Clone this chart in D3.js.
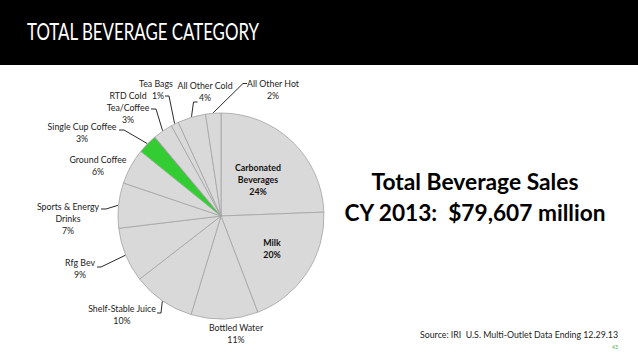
<!DOCTYPE html>
<html lang="en">
<head>
  <meta charset="UTF-8">
  <title>Total Beverage Category</title>
  <style>
    body { margin: 0; padding: 0; background: #fff; }
    svg { display: block; font-family: 'Lato', 'Open Sans', sans-serif; }
    text { white-space: pre; }
    .slice { stroke: #a3a3a3; stroke-width: 0.8px; }
    .leader { fill: none; stroke: #111; stroke-width: 0.9px; }
    .lbl { font-size: 8.8px; fill: #222; }
    .lbl.inside { font-weight: bold; fill: #111; }
  </style>
</head>
<body>
  <svg width="638" height="359"></svg>

  <script src="https://d3js.org/d3.v7.min.js"></script>
  <script>
    // data, clockwise from 12 o'clock
    const categories = [
      "Carbonated Beverages", "Milk", "Bottled Water", "Shelf-Stable Juice",
      "Rfg Bev", "Sports & Energy Drinks", "Ground Coffee", "Single Cup Coffee",
      "RTD Cold Tea/Coffee", "Tea Bags", "All Other Cold", "All Other Hot"
    ];
    const shares = [24.4, 19.8, 10.5, 9.8, 8.6, 7.1, 5.6, 3.1, 3.1, 1.2, 4.4, 2.4];
    const highlighted = "Single Cup Coffee";

    const titleText = "TOTAL BEVERAGE CATEGORY";
    const headline = ["Total Beverage Sales", "CY 2013:  $79,607 million"];
    const sourceText = "Source: IRI  U.S. Multi-Outlet Data Ending 12.29.13";

    // label layout: text lines, centre x, first baseline, leader elbow/end
    const labelLayout = {
      "Carbonated Beverages": { lines: ["Carbonated", "Beverages"], x: 258, y: 171, inside: true },
      "Milk":                 { lines: ["Milk"], x: 272, y: 246, inside: true },
      "Bottled Water":        { lines: ["Bottled Water"], x: 236, y: 331 },
      "Shelf-Stable Juice":   { lines: ["Shelf-Stable Juice"], x: 122, y: 312, leader: [[161, 313], [157, 313]] },
      "Rfg Bev":              { lines: ["Rfg Bev"], x: 80, y: 266, leader: [[101, 267], [97, 267]] },
      "Sports & Energy Drinks": { lines: ["Sports & Energy", "Drinks"], x: 68, y: 210, leader: [[106, 209], [101, 209]] },
      "Ground Coffee":        { lines: ["Ground Coffee"], x: 98, y: 163 },
      "Single Cup Coffee":    { lines: ["Single Cup Coffee"], x: 82, y: 130, leader: [[124, 130], [119, 130]] },
      "RTD Cold Tea/Coffee":  { lines: ["RTD Cold", "Tea/Coffee"], x: 128, y: 99, leader: [[156, 109], [151, 109]] },
      "Tea Bags":             { lines: ["Tea Bags"], x: 156, y: 86.5, pctX: 158, leader: [[169, 96], [165, 96]] },
      "All Other Cold":       { lines: ["All Other Cold"], x: 205, y: 88.5, leader: [[193.5, 102], [197.5, 102]] },
      "All Other Hot":        { lines: ["All Other Hot"], x: 273, y: 86.5, leader: [[243, 83.5], [247, 83.5]] }
    };

    const svg = d3.select("svg");
    const W = 638, H = 359;
    const cx = 221, cy = 216, r = 103;

    // header bar
    svg.append("rect").attr("x", 0).attr("y", 0).attr("width", W).attr("height", 65).attr("fill", "#000");

    svg.append("text")
      .attr("x", 27).attr("y", 40)
      .attr("font-size", 22.5).attr("fill", "#fff")
      .attr("textLength", 232).attr("lengthAdjust", "spacingAndGlyphs")
      .text(titleText);

    // pie
    const pie = d3.pie().sort(null).value(d => d.v);
    const arc = d3.arc().innerRadius(0).outerRadius(r);
    const arcs = pie(categories.map((c, i) => ({ c, v: shares[i] })));

    const g = svg.append("g").attr("transform", `translate(${cx},${cy})`);
    g.selectAll("path")
      .data(arcs)
      .enter().append("path")
      .attr("class", "slice")
      .attr("d", arc)
      .attr("fill", d => d.data.c === highlighted ? "#33cc33" : "#d9d9d9");

    // leaders
    const edge = d3.arc().innerRadius(r + 0.5).outerRadius(r + 0.5);
    arcs.forEach(d => {
      const L = labelLayout[d.data.c];
      if (!L.leader) return;
      const [ex, ey] = edge.centroid(d);
      const pts = [[cx + ex, cy + ey]].concat(L.leader);
      svg.append("path").attr("class", "leader").attr("d", d3.line()(pts));
    });

    // labels
    arcs.forEach(d => {
      const L = labelLayout[d.data.c];
      const pct = Math.round(d.data.v) + "%";
      const lines = L.lines.concat([pct]);
      const t = svg.append("text")
        .attr("class", "lbl" + (L.inside ? " inside" : ""))
        .attr("text-anchor", "middle");
      lines.forEach((s, i) => {
        t.append("tspan")
          .attr("x", i === lines.length - 1 && L.pctX ? L.pctX : L.x)
          .attr("y", L.y + i * 12.2)
          .text(s);
      });
    });

    // headline
    const headW = [207, 261];
    headline.forEach((s, i) => {
      svg.append("text")
        .attr("x", 475 - headW[i] / 2).attr("y", 190 + i * 30.5)
        .attr("font-size", 22).attr("font-weight", "bold").attr("fill", "#000")
        .attr("textLength", headW[i]).attr("lengthAdjust", "spacingAndGlyphs")
        .text(s);
    });

    svg.append("text")
      .attr("x", 420).attr("y", 338)
      .attr("font-size", 9.5).attr("fill", "#222")
      .attr("textLength", 198).attr("lengthAdjust", "spacingAndGlyphs")
      .text(sourceText);

    svg.append("text")
      .attr("x", 612).attr("y", 349)
      .attr("font-size", 5).attr("fill", "#4caf50")
      .text("43");
  </script>
</body>
</html>
